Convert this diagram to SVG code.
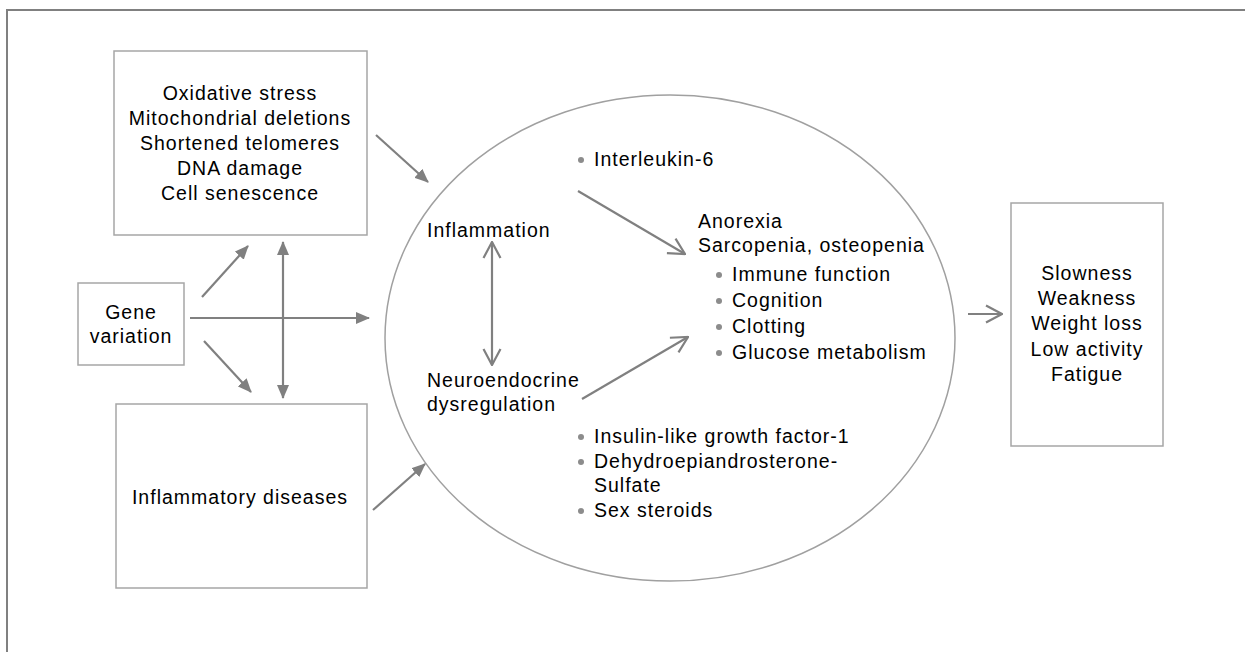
<svg xmlns="http://www.w3.org/2000/svg" width="1245" height="652" viewBox="0 0 1245 652">
  <style>
    text { font-family: "Liberation Sans", Arial, sans-serif; font-size: 19.5px; fill: #000; letter-spacing: 1px; }
    .c { text-anchor: middle; }
    .box { fill: #fff; stroke: #a6a6a6; stroke-width: 1.5; }
    .frame { fill: none; stroke: #808080; stroke-width: 2; }
    .arrow { fill: none; stroke: #808080; stroke-width: 2.2; }
    .dot { fill: #8c8c8c; }
  </style>
  <defs>
    <marker id="tri" viewBox="0 0 14 12" refX="13" refY="6" markerWidth="14" markerHeight="12" orient="auto-start-reverse" markerUnits="userSpaceOnUse">
      <path d="M0,0 L14,6 L0,12 z" fill="#808080"/>
    </marker>
    <marker id="vee" viewBox="0 0 18 20" refX="17" refY="10" markerWidth="18" markerHeight="20" orient="auto-start-reverse" markerUnits="userSpaceOnUse">
      <path d="M1,1.5 L17,10 L1,18.5" fill="none" stroke="#808080" stroke-width="2.2"/>
    </marker>
  </defs>

  <rect width="1245" height="652" fill="#fff"/>
  <!-- outer frame: top and left edges -->
  <path class="frame" d="M7,652 V10 H1245"/>

  <!-- central ellipse with its inner content -->
  <g id="core">
    <ellipse cx="670" cy="338" rx="285" ry="243" fill="#fff" stroke="#a0a0a0" stroke-width="1.5"/>
    <circle class="dot" cx="581" cy="160" r="3"/>
    <text x="594" y="166">Interleukin-6</text>
    <text x="427" y="237">Inflammation</text>
    <text x="427" y="387">Neuroendocrine</text>
    <text x="427" y="411">dysregulation</text>
    <text x="698" y="228">Anorexia</text>
    <text x="698" y="252">Sarcopenia, osteopenia</text>
    <circle class="dot" cx="719" cy="275" r="3"/>
    <text x="732" y="281">Immune function</text>
    <circle class="dot" cx="719" cy="301" r="3"/>
    <text x="732" y="307">Cognition</text>
    <circle class="dot" cx="719" cy="327" r="3"/>
    <text x="732" y="333">Clotting</text>
    <circle class="dot" cx="719" cy="353" r="3"/>
    <text x="732" y="359">Glucose metabolism</text>
    <circle class="dot" cx="581" cy="437" r="3"/>
    <text x="594" y="443">Insulin-like growth factor-1</text>
    <circle class="dot" cx="581" cy="462" r="3"/>
    <text x="594" y="468">Dehydroepiandrosterone-</text>
    <text x="594" y="492">Sulfate</text>
    <circle class="dot" cx="581" cy="511" r="3"/>
    <text x="594" y="517">Sex steroids</text>
  </g>

  <g id="cellular">
    <rect class="box" x="114" y="51" width="253" height="184"/>
    <text class="c" x="240" y="100">Oxidative stress</text>
    <text class="c" x="240" y="125">Mitochondrial deletions</text>
    <text class="c" x="240" y="150">Shortened telomeres</text>
    <text class="c" x="240" y="175">DNA damage</text>
    <text class="c" x="240" y="200">Cell senescence</text>
  </g>

  <g id="gene">
    <rect class="box" x="78" y="283" width="106" height="82"/>
    <text class="c" x="131" y="319">Gene</text>
    <text class="c" x="131" y="343">variation</text>
  </g>

  <g id="disease">
    <rect class="box" x="116" y="404" width="251" height="184"/>
    <text class="c" x="240" y="504">Inflammatory diseases</text>
  </g>

  <g id="frailty">
    <rect class="box" x="1011" y="203" width="152" height="243"/>
    <text class="c" x="1087" y="280">Slowness</text>
    <text class="c" x="1087" y="305">Weakness</text>
    <text class="c" x="1087" y="330">Weight loss</text>
    <text class="c" x="1087" y="356">Low activity</text>
    <text class="c" x="1087" y="381">Fatigue</text>
  </g>

  <g id="connectors">
    <line class="arrow" x1="202" y1="297" x2="248" y2="246" marker-end="url(#tri)"/>
    <line class="arrow" x1="283" y1="242" x2="283" y2="398" marker-start="url(#tri)" marker-end="url(#tri)"/>
    <line class="arrow" x1="190" y1="318" x2="369" y2="318" marker-end="url(#tri)"/>
    <line class="arrow" x1="204" y1="341" x2="251" y2="392" marker-end="url(#tri)"/>
    <line class="arrow" x1="376" y1="135" x2="428" y2="182" marker-end="url(#tri)"/>
    <line class="arrow" x1="373" y1="510" x2="425" y2="464" marker-end="url(#tri)"/>
    <line class="arrow" x1="578" y1="191" x2="685" y2="254" marker-end="url(#vee)"/>
    <line class="arrow" x1="492" y1="242" x2="492" y2="365" marker-start="url(#vee)" marker-end="url(#vee)"/>
    <line class="arrow" x1="582" y1="399" x2="688" y2="337" marker-end="url(#vee)"/>
    <line class="arrow" x1="968" y1="314" x2="1002" y2="314" marker-end="url(#vee)"/>
  </g>
</svg>
